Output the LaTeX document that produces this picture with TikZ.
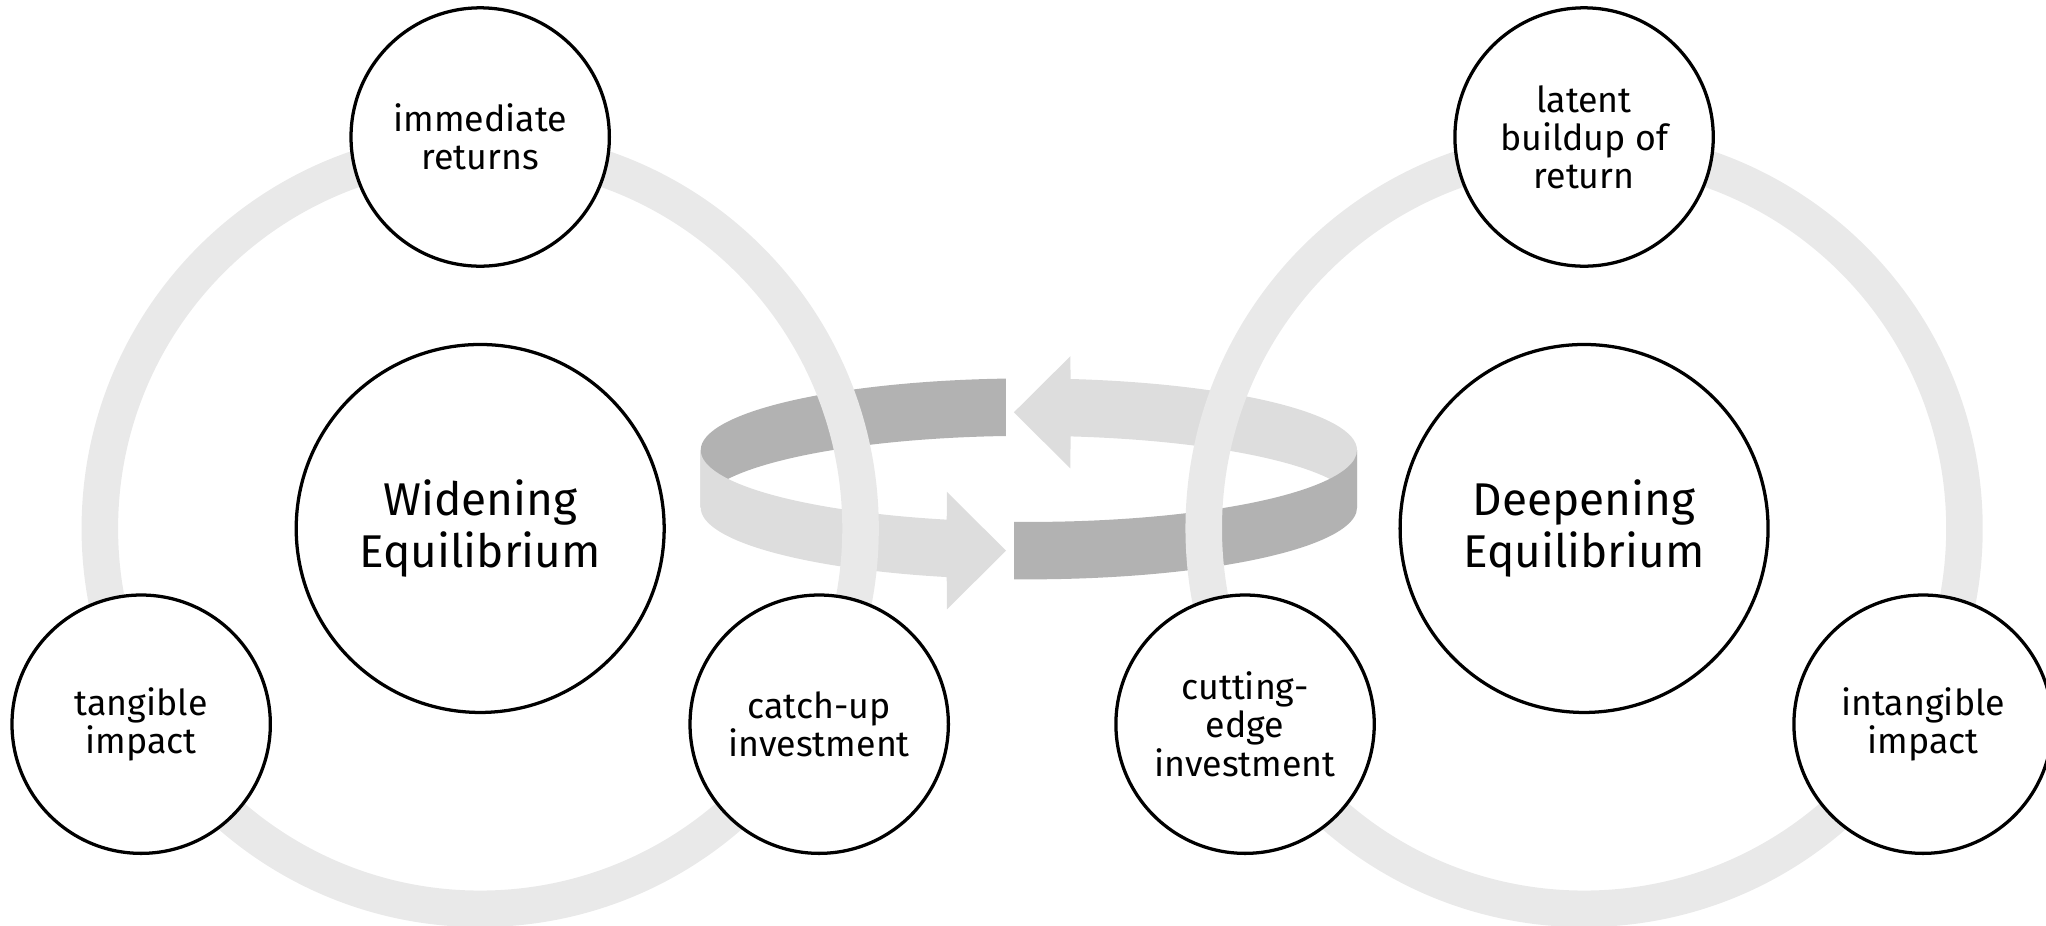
\documentclass[tikz,border=0pt]{standalone}
\usepackage{fontspec}
\setmainfont{Fira Sans}
\usepackage{tikz}
\usetikzlibrary{calc}
\definecolor{ringgray}{RGB}{233,233,233}
\definecolor{bandlight}{RGB}{221,221,221}
\definecolor{banddark}{RGB}{178,178,178}

\begin{document}
\begin{tikzpicture}[
  x=0.5pt, y=0.5pt,
  eqcircle/.style={circle, draw=black, line width=1.25pt, fill=white,
                   minimum size=141pt, inner sep=0pt, align=center,
                   font=\fontsize{17.6}{20}\selectfont},
  subcircle/.style={circle, draw=black, line width=1.25pt, fill=white,
                    minimum size=99pt, inner sep=0pt, align=center,
                    font=\fontsize{13.7}{14.6}\selectfont},
  ring/.style={draw=ringgray, line width=14pt},
  rim/.style={x radius=251.5, y radius=55}
]
\useasboundingbox (0,0) rectangle (1568,709);
\coordinate (wc) at (368,304);
\coordinate (dc) at (1214,304);
\coordinate (rimtop) at (788.5,364);
\coordinate (rimbot) at (788.5,320);

% Exchange arrow between the two equilibria
\fill[banddark] ($(rimtop)+(94:251.5 and 55)$) arc[rim, start angle=94, end angle=180]
  -- ($(rimbot)+(180:251.5 and 55)$) arc[rim, start angle=180, end angle=94] -- cycle;
\fill[bandlight] ($(rimtop)+(180:251.5 and 55)$) arc[rim, start angle=180, end angle=255.5]
  -- (725.7,332) -- (771,287) -- (725.7,242)
  -- ($(rimbot)+(255.5:251.5 and 55)$) arc[rim, start angle=255.5, end angle=180] -- cycle;
\fill[bandlight] ($(rimtop)+(0:251.5 and 55)$) arc[rim, start angle=0, end angle=82.7]
  -- (820.3,436) -- (777,393) -- (820.3,350)
  -- ($(rimbot)+(82.7:251.5 and 55)$) arc[rim, start angle=82.7, end angle=0] -- cycle;
\fill[banddark] ($(rimtop)+(0:251.5 and 55)$) arc[rim, start angle=0, end angle=-92.6]
  -- ($(rimbot)+(-92.6:251.5 and 55)$) arc[rim, start angle=-92.6, end angle=0] -- cycle;

\draw[ring] (wc) circle[radius=291.5];
\draw[ring] (dc) circle[radius=291.5];

\node[eqcircle] (W) at (wc) {Widening\\Equilibrium};
\node[subcircle] (ret) at ($(wc)+(90:300)$) {immediate\\returns};
\node[subcircle] (tang) at ($(wc)+(210:300)$) {tangible\\impact};
\node[subcircle] (catch) at ($(wc)+(330:300)$) {catch-up\\investment};

\node[eqcircle] (D) at (dc) {Deepening\\Equilibrium};
\node[subcircle] (lat) at ($(dc)+(90:300)$) {latent\\buildup of\\return};
\node[subcircle] (cut) at ($(dc)+(210:300)$) {cutting-\\edge\\investment};
\node[subcircle] (intang) at ($(dc)+(330:300)$) {intangible\\impact};
\end{tikzpicture}
\end{document}
